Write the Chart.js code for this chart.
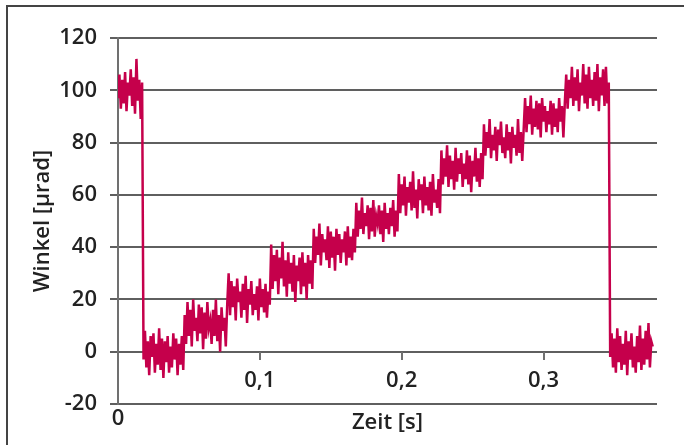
<!DOCTYPE html>
<html>
<head>
<meta charset="utf-8">
<script src="https://cdn.jsdelivr.net/npm/chart.js@4/dist/chart.umd.min.js"></script>
<style>
    body { margin: 0; background: #fff; }
    #wrap { position: relative; width: 684px; height: 445px; overflow: hidden; }
    #frame {
        position: absolute; left: 6px; top: 5px; right: -4px; bottom: -4px;
        border-top: 2px solid #444; border-left: 2px solid #444;
    }
    #chart { position: absolute; left: 0; top: 0; }
</style>
</head>
<body>
<div id="wrap">
    <div id="frame"></div>
    <canvas id="chart" width="684" height="445"></canvas>
</div>
<script>
// one sample every millisecond
var sampleInterval = 0.001;

var winkel = [
    // ~100 before the jump back
    97, 106, 93, 104, 95, 107, 92, 103, 98, 108, 94, 105, 91, 112, 96, 104, 89, 103,
    // 0
    -3, 8, -6, 4, -9, 6, -2, 7, -8, 3, -5, 9, -7, 5, -10, 4, -4, 6, -8, 2, -6, 7, -3, 5, -9, 3, -5, 6, -7,
    // 10
    14, 3, 19, 6, 16, 2, 20, 8, 13, 4, 18, 7, 17, 1, 15, 5, 19, 9, 12, 3, 16, 6, 20, 4, 14, 0, 17, 8, 13, 2, 18,
    // 20
    30, 14, 27, 17, 25, 12, 28, 19, 23, 13, 26, 16, 29, 11, 24, 18, 27, 14, 22, 16, 25, 12, 28, 17, 24, 15, 26, 13, 23, 18,
    // 30
    41, 24, 37, 27, 39, 22, 36, 28, 42, 25, 35, 21, 38, 26, 34, 23, 37, 19, 33, 27, 36, 22, 38, 25, 34, 20, 37, 26, 35, 24,
    // 40
    47, 34, 44, 37, 49, 33, 45, 38, 43, 35, 48, 32, 46, 36, 44, 31, 47, 37, 45, 34, 43, 38, 46, 33, 48, 36, 44, 35, 47, 38,
    // 50
    57, 44, 54, 47, 59, 45, 53, 48, 56, 43, 55, 46, 58, 44, 52, 49, 56, 45, 54, 42, 57, 47, 53, 45, 55, 48, 58, 44, 54, 46,
    // 60
    68, 53, 64, 56, 67, 52, 63, 57, 65, 54, 69, 55, 62, 51, 66, 58, 64, 53, 67, 56, 63, 54, 65, 52, 68, 57, 62, 55, 66, 53,
    // 70
    77, 64, 74, 67, 79, 63, 75, 66, 73, 62, 78, 65, 74, 68, 76, 63, 72, 66, 77, 64, 75, 61, 73, 67, 78, 65, 74, 63, 76, 66,
    // 80
    87, 75, 84, 78, 89, 74, 83, 77, 86, 73, 85, 79, 88, 76, 82, 74, 87, 77, 84, 72, 86, 78, 83, 75, 89, 76, 84, 73, 85,
    // 90
    97, 84, 94, 87, 98, 83, 93, 86, 96, 85, 95, 82, 97, 88, 94, 84, 92, 87, 96, 83, 95, 86, 93, 84, 97, 88, 94, 82, 95,
    // 100
    106, 93, 104, 97, 109, 94, 105, 96, 108, 92, 103, 98, 110, 95, 106, 93, 109, 97, 104, 94, 107, 96, 110, 92, 105, 98, 108, 94, 109, 95, 103,
    // back to 0
    -2, 7, -6, 5, -8, 9, -4, 6, -7, 3, -5, 8, -9, 4, -3, 7, -6, 2, -8, 6, -4, 10, -7, 5, -5, 8, -3, 11, -6, 4, 2
];

var yTicks = [-20, 0, 20, 40, 60, 80, 100, 120];
var xTicks = [0.1, 0.2, 0.3];
var xOriginTicks = [0];
var xMax = 0.38;

var lineColor = '#c5004b';
var gridColor = '#5f5f5f';
var textColor = '#222';
var fontFamily = '"Open Sans", "Noto Sans", sans-serif';
var labelFont = {family: fontFamily, size: 22, weight: '600'};

var points = winkel.map(function(v, i) {
    return {x: i * sampleInterval, y: v};
});

function asTicks(list) {
    return list.map(function(v) { return {value: v}; });
}

function komma(v) {
    if (v === 0) {
        return '0';
    }
    return v.toFixed(1).replace('.', ',');
}

new Chart(document.getElementById('chart'), {
    type: 'line',
    data: {
        datasets: [{
            data: points,
            borderColor: lineColor,
            borderWidth: 2.5,
            borderJoinStyle: 'miter',
            pointRadius: 0,
            tension: 0,
            fill: false
        }]
    },
    options: {
        responsive: false,
        animation: false,
        layout: {padding: {left: 0, top: 38, right: 27, bottom: 0}},
        plugins: {legend: {display: false}, tooltip: {enabled: false}},
        scales: {
            y: {
                type: 'linear',
                position: 'left',
                min: -20,
                max: 120,
                afterBuildTicks: function(s) { s.ticks = asTicks(yTicks); },
                afterFit: function(s) { s.width = 118; },
                grid: {color: gridColor, lineWidth: 2, tickLength: 8},
                border: {color: '#707070', width: 2},
                ticks: {
                    color: textColor,
                    padding: 13,
                    font: labelFont
                },
                title: {
                    display: true,
                    text: 'Winkel [µrad]',
                    color: textColor,
                    padding: {top: 30, bottom: 0},
                    font: labelFont
                }
            },
            // axis drawn through y = 0, with ticks hanging below it
            x: {
                type: 'linear',
                position: {y: 0},
                min: 0,
                max: xMax,
                afterBuildTicks: function(s) { s.ticks = asTicks(xTicks); },
                grid: {drawOnChartArea: false, color: '#707070', lineWidth: 2, tickLength: 8},
                border: {display: false},
                ticks: {
                    color: textColor,
                    padding: 8,
                    maxRotation: 0,
                    font: labelFont,
                    callback: komma
                }
            },
            // bottom axis only carries the origin label and the title
            xb: {
                type: 'linear',
                position: 'bottom',
                min: 0,
                max: xMax,
                afterBuildTicks: function(s) { s.ticks = asTicks(xOriginTicks); },
                afterFit: function(s) { s.height = 41; },
                grid: {display: false, drawTicks: false},
                border: {display: false},
                ticks: {
                    color: textColor,
                    padding: 2,
                    maxRotation: 0,
                    font: labelFont,
                    callback: komma
                },
                title: {
                    display: true,
                    text: 'Zeit [s]',
                    color: textColor,
                    padding: {top: 0, bottom: 9},
                    font: labelFont
                }
            }
        }
    }
});
</script>
</body>
</html>
